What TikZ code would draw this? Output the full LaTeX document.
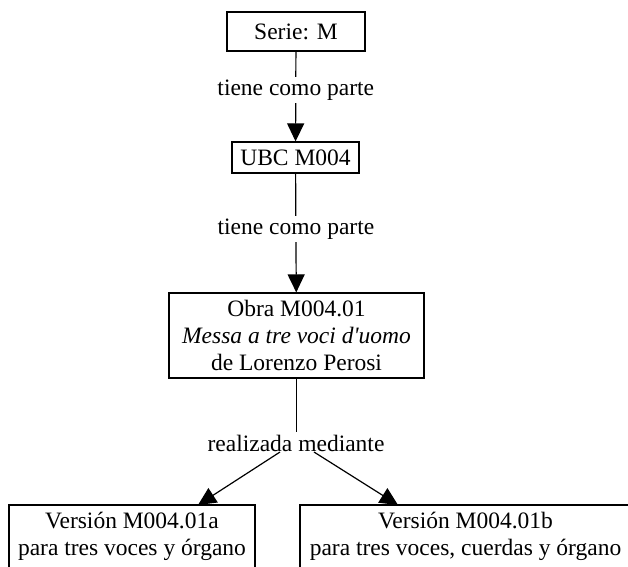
\documentclass[tikz,border=0pt]{standalone}
\usepackage{fontspec}
% plain family without TeX ligatures, so ' stays a straight quote
\newfontfamily\diagfont{Liberation Serif}
\usetikzlibrary{arrows.meta}
\begin{document}
\begin{tikzpicture}[x=1pt,y=-1pt,
  every node/.style={font=\diagfont\fontsize{23.5}{27}\selectfont},
  box/.style={draw, line width=1.2pt, align=center, inner sep=0pt},
  lbl/.style={fill=white, inner sep=2.5pt},
  link/.style={line width=1.2pt, -{Triangle[length=18pt,width=17pt]}},
  plain/.style={line width=1.2pt}]
  \clip (0,0) rectangle (628,566);
  \useasboundingbox (0,0) rectangle (628,566);

  % nodes of the hierarchy
  \node[box, minimum width=138pt, minimum height=39pt] (serie) at (296,31.5) {Serie: M};
  \node[box, minimum width=127pt, minimum height=31pt] (ubc) at (295.5,157.5) {UBC M004};
  \node[box, minimum width=255pt, minimum height=85pt] (obra) at (296.5,335.5)
    {Obra M004.01\\\textit{Messa a tre voci d'uomo}\\de Lorenzo Perosi};
  \node[box, minimum width=246pt, minimum height=63pt] (va) at (132,536.5)
    {Versión M004.01a\\para tres voces y órgano};
  \node[box, minimum width=331pt, minimum height=63pt] (vb) at (465.5,536.5)
    {Versión M004.01b\\para tres voces, cuerdas y órgano};

  % part-of links
  \draw[link] (serie) -- node[lbl, pos=0.43] {tiene como parte} (ubc);
  \draw[link] (ubc) -- node[lbl, pos=0.466] {tiene como parte} (obra);

  % realization links through the shared label
  \node[inner sep=0pt] (rm) at (296,443) {realizada mediante};
  \coordinate (fromA) at (280,452);
  \coordinate (fromB) at (314,452);
  \coordinate (tipA) at (198,505);
  \coordinate (tipB) at (398,505);
  \draw[plain] (obra.south) -- (obra.south |- 0,432);
  \draw[link] (fromA) -- (tipA);
  \draw[link] (fromB) -- (tipB);
\end{tikzpicture}
\end{document}
